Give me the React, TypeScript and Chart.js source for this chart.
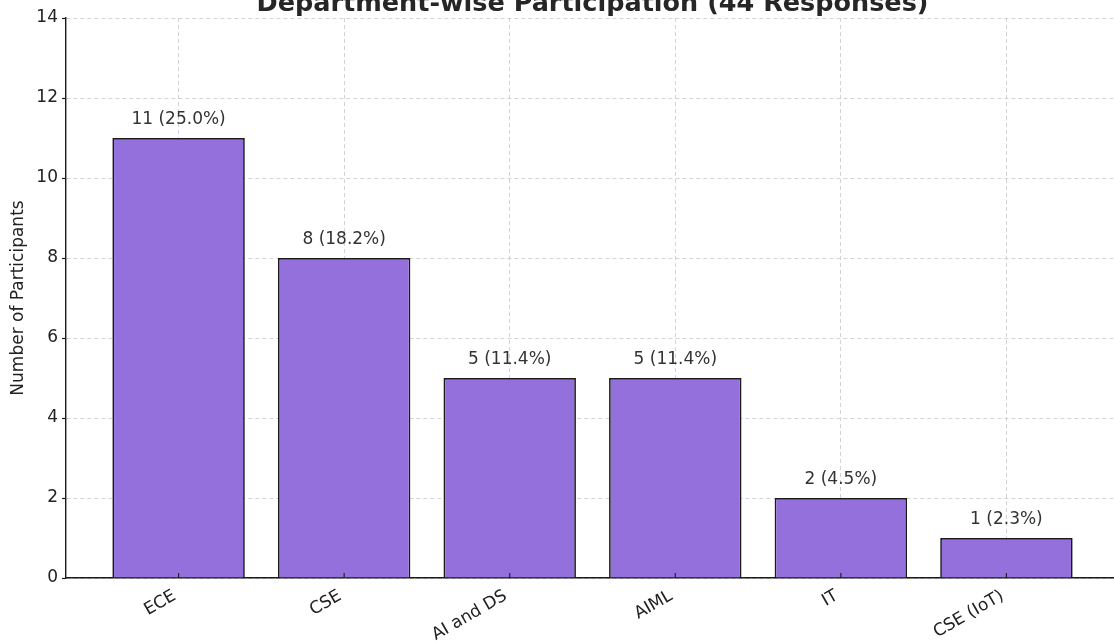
import React, { useEffect, useRef } from "react";
import { Chart, registerables } from "chart.js";

Chart.register(...registerables);

const chartTitle = "Department-wise Participation (44 Responses)";
const yAxisTitle = "Number of Participants";
const categories = ["ECE", "CSE", "AI and DS", "AIML", "IT", "CSE (IoT)"];
const counts = [11, 8, 5, 5, 2, 1];
const barLabels = ["11 (25.0%)", "8 (18.2%)", "5 (11.4%)", "5 (11.4%)", "2 (4.5%)", "1 (2.3%)"];
const yTicks = [0, 2, 4, 6, 8, 10, 12, 14];

const FONT = "'DejaVu Sans', sans-serif";

const labelPlugin = {
  id: "barLabels",
  afterDatasetsDraw(chart: any) {
    const ctx = chart.ctx;
    const meta = chart.getDatasetMeta(0);
    ctx.save();
    ctx.font = `17px ${FONT}`;
    ctx.fillStyle = "#333333";
    ctx.textAlign = "center";
    ctx.textBaseline = "bottom";
    meta.data.forEach((bar: any, i: number) => {
      ctx.fillText(barLabels[i], bar.x, bar.y - 10);
    });
    ctx.restore();
  },
  afterDraw(chart: any) {
    const ctx = chart.ctx;
    const area = chart.chartArea;
    ctx.save();
    ctx.font = `bold 25.5px ${FONT}`;
    ctx.fillStyle = "#262626";
    ctx.textAlign = "center";
    ctx.textBaseline = "alphabetic";
    ctx.fillText(chartTitle, (area.left + area.right) / 2, 11);
    // inward x tick marks
    const xs = chart.scales.x;
    ctx.strokeStyle = "#222";
    ctx.lineWidth = 1.2;
    categories.forEach((_, i) => {
      const px = xs.getPixelForValue(i);
      ctx.beginPath();
      ctx.moveTo(px, area.bottom);
      ctx.lineTo(px, area.bottom - 5);
      ctx.stroke();
    });
    ctx.restore();
  },
};

export default function App() {
  const ref = useRef<HTMLCanvasElement | null>(null);

  useEffect(() => {
    if (!ref.current) return;
    const chart = new Chart(ref.current, {
      type: "bar",
      data: {
        datasets: [
          {
            data: counts.map((v, i) => ({ x: i, y: v })),
            backgroundColor: "#9370DB",
            borderColor: "#1a1a1a",
            borderWidth: 1.7,
            barPercentage: 0.8,
            categoryPercentage: 1.0,
          },
        ],
      },
      options: {
        responsive: false,
        animation: false,
        layout: { padding: { top: 18, left: 0, right: 0, bottom: 0 } },
        plugins: {
          legend: { display: false },
          tooltip: { enabled: false },
          title: { display: false },
        },
        scales: {
          x: {
            type: "linear",
            min: -0.68,
            max: 5.68,
            offset: false,
            z: 1,
            afterBuildTicks: (scale: any) => {
              scale.ticks = categories.map((_, i) => ({ value: i }));
            },
            afterFit: (scale: any) => {
              scale.height = 64;
            },
            ticks: {
              autoSkip: false,
              minRotation: 30,
              maxRotation: 30,
              padding: 8,
              labelOffset: -4,
              color: "#222",
              font: { family: FONT, size: 17 },
              callback: (v: any) => categories[Math.round(Number(v))] ?? "",
            },
            grid: {
              offset: false,
              color: "rgba(190,190,190,0.75)",
              lineWidth: 0.9,
              drawTicks: false,
              tickLength: 0,
            },
            border: { display: true, color: "#1a1a1a", width: 1.4, dash: [4, 3] },
          },
          y: {
            type: "linear",
            min: 0,
            max: 14,
            z: 1,
            afterBuildTicks: (scale: any) => {
              scale.ticks = yTicks.map((v) => ({ value: v }));
            },
            afterFit: (scale: any) => {
              scale.width = 66;
            },
            ticks: {
              padding: 4,
              color: "#222",
              font: { family: FONT, size: 17 },
            },
            grid: {
              color: "rgba(190,190,190,0.75)",
              lineWidth: 0.9,
              drawTicks: true,
              tickLength: 4,
              tickColor: "#1a1a1a",
              tickWidth: 1.2,
              tickBorderDash: [],
            },
            border: { display: true, color: "#1a1a1a", width: 1.4, dash: [4, 3] },
            title: {
              display: true,
              text: yAxisTitle,
              color: "#222",
              font: { family: FONT, size: 17 },
              padding: { top: 8, bottom: 4 },
            },
          },
        },
      },
      plugins: [labelPlugin],
    } as any);
    return () => chart.destroy();
  }, []);

  return (
    <div
      style={{
        position: "fixed",
        left: 0,
        top: 0,
        width: 1114,
        height: 642,
        overflow: "hidden",
        background: "#fff",
      }}
    >
      <canvas ref={ref} width={1119} height={642} style={{ display: "block" }} />
    </div>
  );
}
